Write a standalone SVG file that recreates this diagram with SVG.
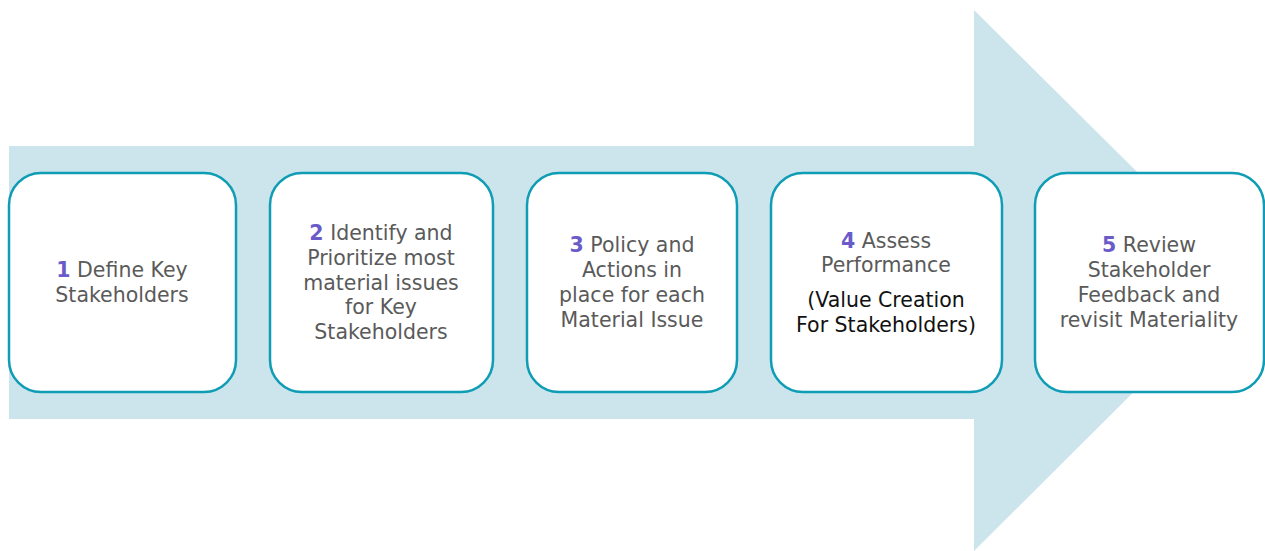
<svg xmlns="http://www.w3.org/2000/svg" width="1265" height="551" viewBox="0 0 1265 551">
<style>
.box{fill:#ffffff;stroke:#0e9db4;stroke-width:2.5}
.t{font-family:"DejaVu Sans",sans-serif;font-size:20.5px;fill:#5a5a5a;text-anchor:middle}
.n{fill:#6b5bc9;font-weight:bold}
.k{fill:#111111}
</style>
<rect width="1265" height="551" fill="#ffffff"/>
<g id="arrow">
<polygon points="9,146 974,146 974,10 1246,280 974,551 974,419 9,419" fill="#cce4ec"/>
</g>
<g id="connectors"></g>
<g id="step1">
<rect class="box" x="9" y="173" width="227" height="219" rx="32"/>
<text class="t" x="122" y="277"><tspan class="n">1</tspan> Define Key</text>
<text class="t" x="122" y="302">Stakeholders</text>
</g>
<g id="step2">
<rect class="box" x="270" y="173" width="223" height="219" rx="32"/>
<text class="t" x="381" y="240"><tspan class="n">2</tspan> Identify and</text>
<text class="t" x="381" y="265">Prioritize most</text>
<text class="t" x="381" y="290">material issues</text>
<text class="t" x="381" y="314">for Key</text>
<text class="t" x="381" y="339">Stakeholders</text>
</g>
<g id="step3">
<rect class="box" x="527" y="173" width="210" height="219" rx="32"/>
<text class="t" x="632" y="252"><tspan class="n">3</tspan> Policy and</text>
<text class="t" x="632" y="277">Actions in</text>
<text class="t" x="632" y="302">place for each</text>
<text class="t" x="632" y="327">Material Issue</text>
</g>
<g id="step4">
<rect class="box" x="771" y="173" width="231" height="219" rx="32"/>
<text class="t" x="886" y="248"><tspan class="n">4</tspan> Assess</text>
<text class="t" x="886" y="272">Performance</text>
<text class="t k" x="886" y="307">(Value Creation</text>
<text class="t k" x="886" y="332">For Stakeholders)</text>
</g>
<g id="step5">
<rect class="box" x="1035" y="173" width="229" height="219" rx="32"/>
<text class="t" x="1149" y="252"><tspan class="n">5</tspan> Review</text>
<text class="t" x="1149" y="277">Stakeholder</text>
<text class="t" x="1149" y="302">Feedback and</text>
<text class="t" x="1149" y="327">revisit Materiality</text>
</g>
</svg>
